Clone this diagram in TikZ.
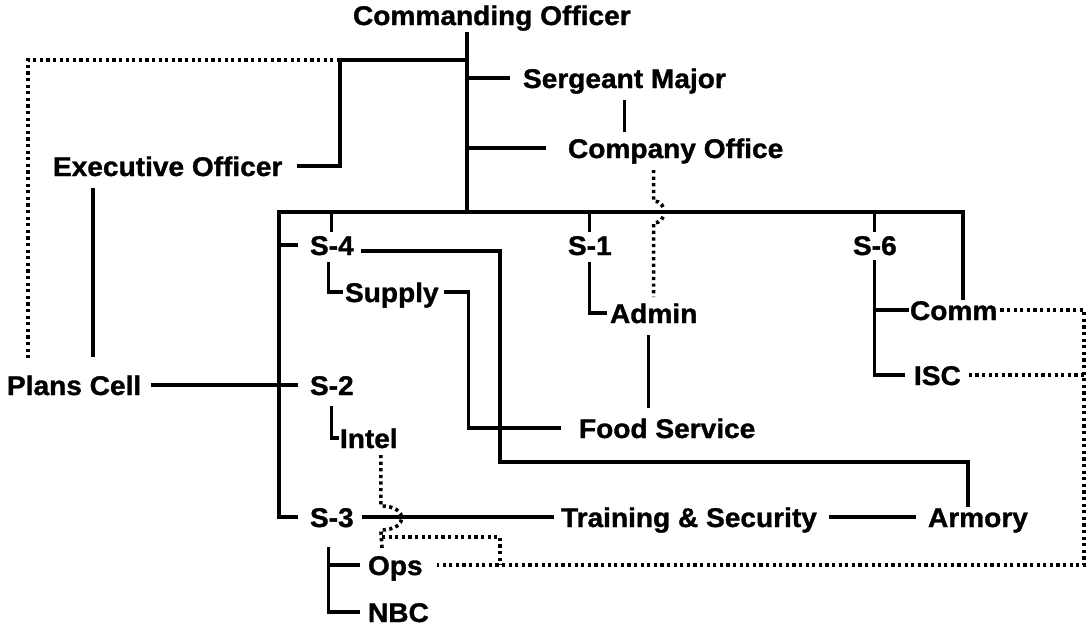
\documentclass[tikz,border=0pt]{standalone}
\usepackage{fontspec}
\setmainfont{Liberation Sans}[FakeStretch=1.04, BoldFeatures={FakeBold=1.2}]
\begin{document}
\begin{tikzpicture}[x=1pt,y=-1pt,
  lbl/.style={font=\bfseries\fontsize{27}{30}\selectfont, inner sep=0pt, outer sep=0pt, anchor=base west, text height=20pt, text depth=0pt},
  conn/.style={line width=3.2pt},
  dotc/.style={line width=3.6pt, dash pattern=on 3.2pt off 3.4pt}]
\fill[white] (0,0) rectangle (1088,627);
\useasboundingbox (0,0) rectangle (1088,627);

% text nodes
\node[lbl] (co)    at (353,25)  {Commanding Officer};
\node[lbl] (sm)    at (523,88)  {Sergeant Major};
\node[lbl] (cof)   at (568,158) {Company Office};
\node[lbl] (xo)    at (53,176)  {Executive Officer};
\node[lbl] (pc)    at (7,395)   {Plans Cell};
\node[lbl] (s4)    at (310,255) {S-4};
\node[lbl] (s1)    at (568,255) {S-1};
\node[lbl] (s6)    at (853,255) {S-6};
\node[lbl] (sup)   at (345,302) {Supply};
\node[lbl] (adm)   at (610,323) {Admin};
\node[lbl] (comm)  at (910,320) {Comm};
\node[lbl] (isc)   at (914,385) {ISC};
\node[lbl] (s2)    at (310,395) {S-2};
\node[lbl] (intel) at (340,448) {Intel};
\node[lbl] (food)  at (579,438) {Food Service};
\node[lbl] (s3)    at (310,527) {S-3};
\node[lbl] (ts)    at (561,527) {Training \& Security};
\node[lbl] (arm)   at (928,527) {Armory};
\node[lbl] (ops)   at (368,575) {Ops};
\node[lbl] (nbc)   at (368,622) {NBC};

% junction coordinates
\coordinate (t0) at (467,32);
\coordinate (tb) at (467,212);
\coordinate (xj) at (340,60);
\coordinate (dl) at (28,60);
\coordinate (bl) at (279,212);
\coordinate (br) at (963,212);
\coordinate (aj) at (500,462);
\coordinate (rx) at (1084,0);
\coordinate (ox) at (500,0);
\coordinate (ib) at (382,537);

% solid connectors
\draw[conn] (t0) -- (tb);
\draw[conn] (xj -| t0) -- (xj) |- ([xshift=15pt]xo.east);
\draw[conn] (sm.west -| t0) -- ([xshift=-13pt]sm.west);
\draw[conn] ([yshift=-12pt]sm.south) -- ++(0,32);
\draw[conn] (cof.west -| t0) -- ([xshift=-22pt]cof.west);
\draw[conn] ([shift={(40,12)}]xo.base west) -- ([shift={(86,-38)}]pc.base west);
\draw[conn] ([xshift=10pt]pc.east) -- ([xshift=-12pt]s2.west);
\draw[conn] ([xshift=-12pt]s3.west) -| (bl) -- (br) -- (br |- comm.north);
\draw[conn] ([xshift=-12pt]s4.west) -- (s4.west -| bl);
\draw[conn] ([yshift=3pt]s4.north) -- (s4.north |- bl);
\draw[conn] ([yshift=3pt]s1.north) -- (s1.north |- bl);
\draw[conn] ([yshift=3pt]s6.north) -- (s6.north |- bl);
\draw[conn] ([shift={(7,6)}]s4.east) -| (aj) -| ([xshift=-10pt]arm.north);
\draw[conn] ([shift={(-3,7)}]s4.south) |- ([xshift=-2pt]sup.west);
\draw[conn] ([xshift=5pt]sup.east) -- ++(25,0) |- ([xshift=-18pt]food.west);
\draw[conn] ([yshift=-7pt]s1.south) |- ([xshift=-3pt]adm.west);
\draw[conn] ([shift={(-5,12)}]adm.south) -- ++(0,73);
\draw[conn] ([yshift=-5pt]s6.south) |- ([xshift=-9pt]isc.west);
\draw[conn] (s6.south |- comm.west) -- ([xshift=-1pt]comm.west);
\draw[conn] ([yshift=-11pt]s2.south) |- ([xshift=-1pt]intel.west);
\draw[conn] ([xshift=8pt]s3.east) -- ([xshift=-7pt]ts.west);
\draw[conn] ([xshift=12pt]ts.east) -- ([xshift=-12pt]arm.west);
\draw[conn] ([shift={(-3,20)}]s3.south) |- ([xshift=-8pt]nbc.west);
\draw[conn] (s3.south |- ops.west) ++(-3,0) -- ([xshift=-8pt]ops.west);

% dotted connectors
\draw[dotc] (xj) -- (dl) -- ([shift={(21,-36)}]pc.base west);
\draw[dotc] ([xshift=3pt]comm.east) -| (ops.east -| rx) -- ([xshift=14pt]ops.east);
\draw[dotc] ([xshift=8pt]isc.east) -- (isc.east -| rx);
\draw[dotc] ([shift={(-22,12)}]cof.south) -- ++(0,31) .. controls +(14,0) and +(14,0) .. ++(0,22) -- ([yshift=6pt]adm.north);
\draw[dotc] ([shift={(12,7)}]intel.south) -- ++(0,51) .. controls +(28,0) and +(28,0) .. ++(0,24) -- ([shift={(14,-7)}]ops.north west);
\draw[dotc] (ib) -| (ops.east -| ox);
\end{tikzpicture}
\end{document}
